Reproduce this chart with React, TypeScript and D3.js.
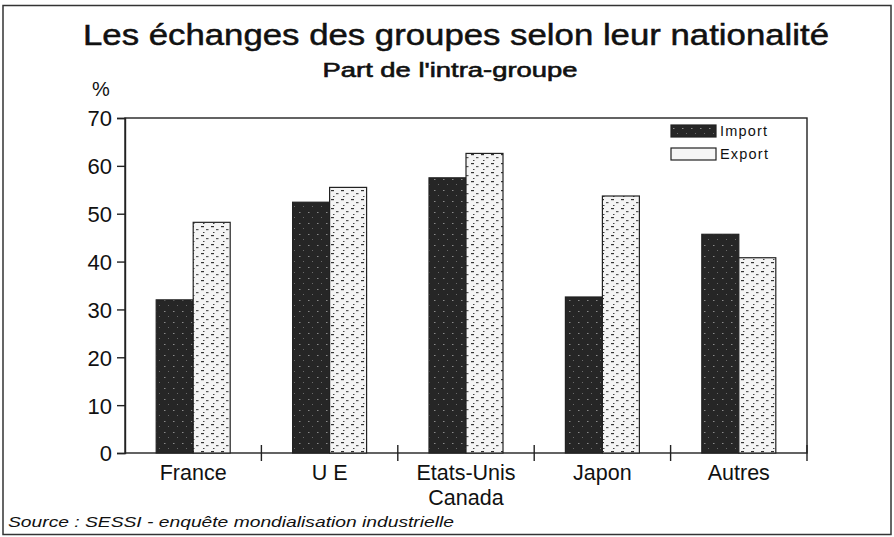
import * as d3 from 'd3';
import React, { useRef, useEffect } from 'react';

const categories = [['France'], ['U E'], ['Etats-Unis', 'Canada'], ['Japon'], ['Autres']];
const importValues = [32, 52.4, 57.5, 32.6, 45.7];
const exportValues = [48.2, 55.5, 62.6, 53.7, 40.8];
const seriesNames = ['Import', 'Export'];
const yTicks = [0, 10, 20, 30, 40, 50, 60, 70];

const width = 894;
const height = 537;
const margin = { top: 118, right: 87, bottom: 84, left: 125 };
const font = "'Liberation Sans', Arial, sans-serif";

function App() {
  const ref = useRef<SVGSVGElement>(null);

  useEffect(() => {
    draw();
  }, []); // eslint-disable-line react-hooks/exhaustive-deps

  const draw = () => {
    const svg = d3.select(ref.current);
    svg.selectAll('*').remove();

    // textures for the bars (scanned look)
    const defs = svg.append('defs');
    const dark = defs
      .append('pattern')
      .attr('id', 'pat-import')
      .attr('patternUnits', 'userSpaceOnUse')
      .attr('width', 9)
      .attr('height', 11);
    dark.append('rect').attr('width', 9).attr('height', 11).attr('fill', '#262626');
    dark.append('rect').attr('x', 2).attr('y', 3).attr('width', 1.5).attr('height', 1).attr('fill', '#8a8a8a');
    dark.append('rect').attr('x', 6).attr('y', 8).attr('width', 1).attr('height', 1).attr('fill', '#6a6a6a');
    const light = defs
      .append('pattern')
      .attr('id', 'pat-export')
      .attr('patternUnits', 'userSpaceOnUse')
      .attr('width', 10)
      .attr('height', 9);
    light.append('rect').attr('width', 10).attr('height', 9).attr('fill', '#f4f4f4');
    light.append('rect').attr('x', 1).attr('y', 1).attr('width', 3).attr('height', 1.2).attr('fill', '#333');
    light.append('rect').attr('x', 6).attr('y', 4).attr('width', 2.5).attr('height', 1.2).attr('fill', '#555');
    light.append('rect').attr('x', 3).attr('y', 7).attr('width', 1.5).attr('height', 1).attr('fill', '#444');

    // outer frame
    svg
      .append('rect')
      .attr('x', 3)
      .attr('y', 5.5)
      .attr('width', 888)
      .attr('height', 529)
      .attr('fill', 'none')
      .attr('stroke', '#333')
      .attr('stroke-width', 1.5);

    svg
      .append('text')
      .attr('x', 456)
      .attr('y', 45)
      .attr('text-anchor', 'middle')
      .attr('textLength', 746)
      .attr('lengthAdjust', 'spacingAndGlyphs')
      .style('font', `29px ${font}`)
      .attr('fill', '#111')
      .attr('stroke', '#111')
      .attr('stroke-width', 0.5)
      .text('Les échanges des groupes selon leur nationalité');

    svg
      .append('text')
      .attr('x', 450)
      .attr('y', 77)
      .attr('text-anchor', 'middle')
      .attr('textLength', 255)
      .attr('lengthAdjust', 'spacingAndGlyphs')
      .style('font', `20px ${font}`)
      .attr('fill', '#111')
      .attr('stroke', '#111')
      .attr('stroke-width', 0.6)
      .text("Part de l'intra-groupe");

    svg
      .append('text')
      .attr('x', 92)
      .attr('y', 96)
      .style('font', `20px ${font}`)
      .attr('fill', '#111')
      .text('%');

    const x0 = d3
      .scaleBand()
      .domain(d3.range(categories.length).map(String))
      .range([margin.left, width - margin.right]);
    const x1 = d3.scaleBand().domain(seriesNames).range([0, 74]);
    const y = d3.scaleLinear().domain([0, 70]).range([height - margin.bottom, margin.top]);

    // plot box
    svg
      .append('rect')
      .attr('x', margin.left)
      .attr('y', margin.top)
      .attr('width', width - margin.right - margin.left)
      .attr('height', y(0) - margin.top)
      .attr('fill', 'none')
      .attr('stroke', '#222')
      .attr('stroke-width', 1.4);

    const yAxis = svg
      .append('g')
      .attr('transform', `translate(${margin.left}, 0)`)
      .call(d3.axisLeft(y).tickValues(yTicks).tickSize(8).tickFormat(d3.format('d')));
    yAxis.select('.domain').attr('stroke', '#222').attr('stroke-width', 1.4);
    yAxis.selectAll('line').attr('stroke', '#222').attr('stroke-width', 1.4);
    yAxis
      .selectAll('text')
      .attr('x', -13)
      .attr('dy', '0.36em')
      .style('font', `22px ${font}`)
      .attr('fill', '#111');

    // category separators
    svg
      .append('g')
      .selectAll('line')
      .data(d3.range(1, categories.length + 1))
      .enter()
      .append('line')
      .attr('x1', (i) => x0(String(i - 1))! + x0.bandwidth())
      .attr('x2', (i) => x0(String(i - 1))! + x0.bandwidth())
      .attr('y1', y(0) - 8)
      .attr('y2', y(0) + 8)
      .attr('stroke', '#222')
      .attr('stroke-width', 1.4);

    const series = [importValues, exportValues];
    series.forEach((values, s) => {
      svg
        .append('g')
        .selectAll('rect')
        .data(values)
        .enter()
        .append('rect')
        .attr('x', (_, i) => x0(String(i))! + x0.bandwidth() / 2 - 37 + x1(seriesNames[s])!)
        .attr('y', (d) => y(d))
        .attr('width', x1.bandwidth())
        .attr('height', (d) => y(0) - y(d))
        .attr('fill', s === 0 ? 'url(#pat-import)' : 'url(#pat-export)')
        .attr('stroke', '#222')
        .attr('stroke-width', 1.2);
    });

    // category labels
    const labels = svg
      .append('g')
      .selectAll('text')
      .data(categories)
      .enter()
      .append('text')
      .attr('x', (_, i) => x0(String(i))! + x0.bandwidth() / 2)
      .attr('y', 480)
      .attr('text-anchor', 'middle')
      .style('font', `21.5px ${font}`)
      .attr('fill', '#111');
    labels
      .selectAll('tspan')
      .data((d) => d)
      .enter()
      .append('tspan')
      .attr('x', function () {
        return (this.parentNode as SVGTextElement).getAttribute('x');
      })
      .attr('dy', (_, j) => (j === 0 ? 0 : 25))
      .text((d) => d);

    // legend
    const legend = svg
      .append('g')
      .selectAll('g')
      .data(seriesNames)
      .enter()
      .append('g')
      .attr('transform', (_, i) => `translate(671, ${125 + i * 23})`);
    legend
      .append('rect')
      .attr('width', 45)
      .attr('height', 12)
      .attr('fill', (_, i) => (i === 0 ? 'url(#pat-import)' : '#f6f6f6'))
      .attr('stroke', '#222')
      .attr('stroke-width', 1.2);
    legend
      .append('text')
      .attr('x', 49)
      .attr('y', 11)
      .style('font', `14.5px ${font}`)
      .style('letter-spacing', '1.2px')
      .attr('fill', '#111')
      .text((d) => d);

    svg
      .append('text')
      .attr('x', 8)
      .attr('y', 527)
      .attr('textLength', 446)
      .attr('lengthAdjust', 'spacingAndGlyphs')
      .style('font', `italic 15.5px ${font}`)
      .attr('fill', '#111')
      .text('Source : SESSI - enquête mondialisation industrielle');
  };

  return (
    <svg
      ref={ref}
      width={width}
      height={height}
      style={{ position: 'absolute', left: 0, top: 0, background: '#fff' }}
    />
  );
}

export default App;
